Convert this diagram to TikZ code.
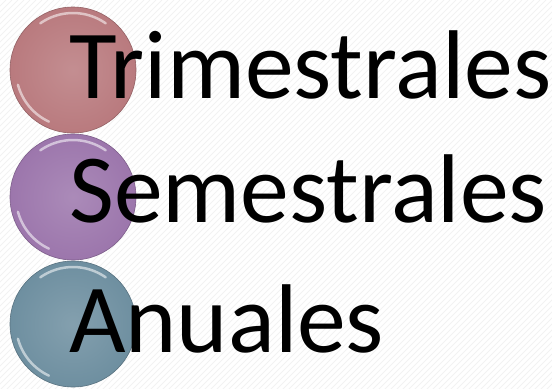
\documentclass[tikz,border=0pt]{standalone}
\usepackage{fontspec}
\setmainfont{Carlito}
\definecolor{trimcol}{RGB}{185,122,126}
\definecolor{semcol}{RGB}{156,118,172}
\definecolor{anucol}{RGB}{110,143,160}
\tikzset{
    ball/.style={circle, minimum size=126bp, inner sep=0pt,
        draw=#1!80!black, line width=0.6bp,
        inner color=#1!85!white, outer color=#1},
    gloss/.style={white, opacity=0.55, line width=2.5bp, line cap=round},
    label/.style={anchor=base west, inner sep=0pt,
        font=\fontsize{98}{98}\selectfont}
}
\begin{document}
\begin{tikzpicture}[x=1bp,y=-1bp]
    \useasboundingbox (0,0) rectangle (552,388);
    % faint stripes in the background
    \begin{scope}
        \clip (0,0) rectangle (552,388);
        \foreach \s in {0,6,...,940}
            \draw[gray!10, line width=0.8bp] (\s,0) -- (\s-400,400);
    \end{scope}
    \node[ball=trimcol] (trim) at (73,70) {};
    \node[ball=semcol] (sem) at (73,197) {};
    \node[ball=anucol] (anu) at (73,324) {};
    \foreach \b in {trim,sem,anu} {
        \draw[gloss] (\b) ++(-125:57) arc[start angle=-125, end angle=-55, radius=57];
        \draw[gloss] (\b) ++(115:57) arc[start angle=115, end angle=165, radius=57];
    }
    \node[label] (trimtext) at (69,98) {Trimestrales};
    \node[label] (semtext) at (69,222) {Semestrales};
    \node[label] (anutext) at (69,352) {Anuales};
\end{tikzpicture}
\end{document}
